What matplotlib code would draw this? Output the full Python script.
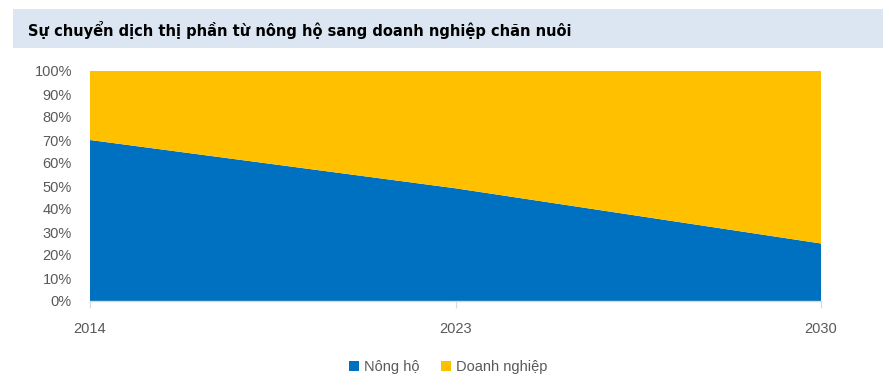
import matplotlib
matplotlib.use("Agg")
import matplotlib.pyplot as plt
from matplotlib.patches import Rectangle, Patch
from matplotlib.ticker import FuncFormatter, MultipleLocator

years = ["2014", "2023", "2030"]
nong_ho = [0.70, 0.49, 0.25]
doanh_nghiep = [0.30, 0.51, 0.75]
series_names = ["Nông hộ", "Doanh nghiệp"]
title = "Sự chuyển dịch thị phần từ nông hộ sang doanh nghiệp chăn nuôi"

blue = "#0070C0"
yellow = "#FFC000"
gray_text = "#595959"

plt.rcParams['font.family'] = ['Liberation Sans', 'DejaVu Sans']

fig = plt.figure(figsize=(8.89, 3.92), dpi=100)
W, H = 889, 392

fig.patches.append(Rectangle((13 / W, 1 - 48 / H), (883 - 13) / W, 39 / H,
                             transform=fig.transFigure, facecolor="#DCE6F2",
                             edgecolor="none", zorder=0))
fig.text(28 / W, 1 - 30 / H, title, fontsize=11.7, fontweight="bold",
         fontstretch="condensed",
         family=['DejaVu Sans'],
         color="black", va="center", ha="left")

ax = fig.add_axes([90 / W, 1 - 301 / H, (821 - 90) / W, (301 - 71) / H])
x = list(range(len(years)))
ax.stackplot(x, nong_ho, doanh_nghiep, colors=[blue, yellow], labels=series_names,
             linewidth=0)
ax.set_xlim(0, len(years) - 1)
ax.set_ylim(0, 1)
ax.set_xticks(x)
ax.set_xticklabels(years)
ax.yaxis.set_major_locator(MultipleLocator(0.1))
ax.yaxis.set_major_formatter(FuncFormatter(lambda v, p: f"{v*100:.0f}%"))

for s in ["top", "right", "left"]:
    ax.spines[s].set_visible(False)
ax.spines["bottom"].set_color("#D9D9D9")
ax.spines["bottom"].set_linewidth(1)
ax.tick_params(axis="y", length=0, labelsize=10.5, labelcolor=gray_text, pad=13)
ax.tick_params(axis="x", length=5, color="#D9D9D9", labelsize=10.5,
               labelcolor=gray_text, pad=10)

handles = [Patch(facecolor=blue, label=series_names[0]),
           Patch(facecolor=yellow, label=series_names[1])]
fig.legend(handles=handles, loc="center", bbox_to_anchor=(448 / W, 1 - 367 / H),
           ncol=2, frameon=False, fontsize=10.5, labelcolor=gray_text,
           handlelength=0.7, handleheight=0.7, handletextpad=0.3, columnspacing=1.5)

fig.savefig("out.png", dpi=100)
